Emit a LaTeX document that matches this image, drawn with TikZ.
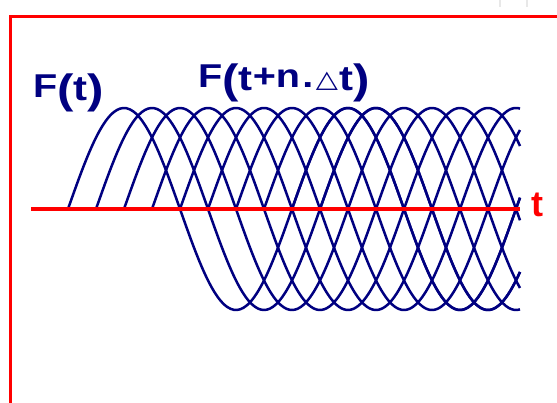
\documentclass[tikz,border=0pt]{standalone}
\usepackage{fontspec}
\setmainfont{Liberation Sans}
\newfontfamily\djv{DejaVu Sans}
\definecolor{navy}{RGB}{0,0,128}
\definecolor{faint}{RGB}{232,232,232}
\newcommand{\bigpar}[1]{\raisebox{-6pt}{\fontsize{41}{41}\selectfont #1}}
\newcommand{\bigtee}{\raisebox{-3pt}{\fontsize{35}{35}\selectfont t}}
\tikzset{
  wave/.style={navy, line width=2.5pt, line join=round},
  axisline/.style={red, line width=3.5pt},
  frameline/.style={red, line width=3pt},
  lbl/.style={navy, inner sep=0pt, font=\fontsize{33}{33}\selectfont\bfseries},
  tlbl/.style={red, inner sep=0pt, font=\fontsize{36}{36}\selectfont\bfseries}
}
\begin{document}
\begin{tikzpicture}[x=1pt,y=-1pt]
\useasboundingbox (0,0) rectangle (557,403);
% faint marks at top right
\draw[faint, line width=2pt] (500,0) -- (500,7);
\draw[faint, line width=2pt] (527,0) -- (527,7);
% frame
\coordinate (fbl) at (10.5,403);
\coordinate (ftl) at (10.5,16.7);
\coordinate (ftr) at (557,16.7);
\draw[frameline] (fbl) -- (ftl) -- (ftr);
% waves
\foreach \k in {0,...,9} {
  \pgfmathsetmacro\xs{68+28*\k}
  \draw[wave] plot[domain=\xs:520, samples=140, smooth] (\x,{209-101*sin((\x-\xs)*1.6071429)});
}
% axis
\coordinate (a0) at (31,209);
\coordinate (a1) at (520,209);
\draw[axisline] (a0) -- (a1);
\node[tlbl, anchor=base west] (tlabel) at (531,217) {t};
% labels
\node[lbl, anchor=base west] (ft) at (33,98) {\scalebox{1.2}[1]{F\bigpar{(}\bigtee\bigpar{)}}};
\node[lbl, anchor=base west] (ftn) at (198,88) {\scalebox{1.2}[1]{F\bigpar{(}\bigtee+n\kern2pt.\kern2pt{\djv\fontsize{24}{24}\selectfont △}\kern1pt\bigtee\bigpar{)}}};
\end{tikzpicture}
\end{document}
